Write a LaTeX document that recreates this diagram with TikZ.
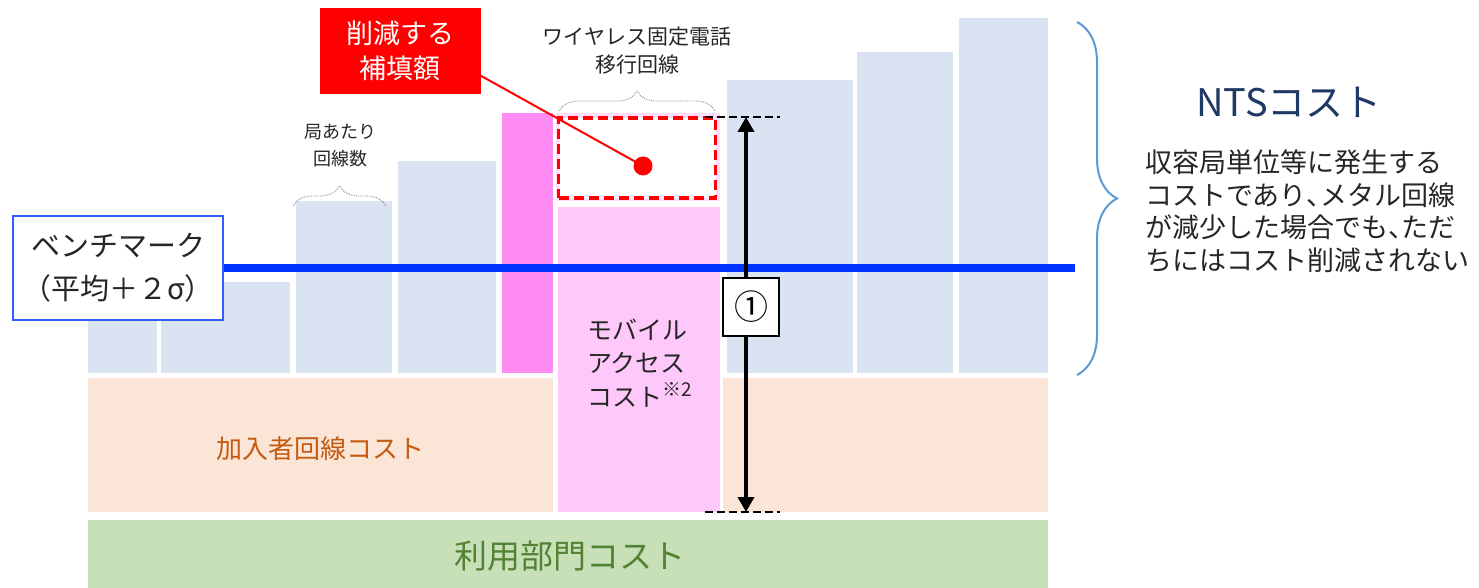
\documentclass[tikz,border=0pt]{standalone}
\usepackage{fontspec}
\setmainfont{Noto Sans CJK JP}
\usetikzlibrary{arrows.meta,decorations.pathreplacing}
\definecolor{barblue}{RGB}{218,227,242}
\definecolor{orng}{RGB}{251,229,214}
\definecolor{grn}{RGB}{199,224,183}
\definecolor{mag}{RGB}{255,140,245}
\definecolor{lpink}{RGB}{255,200,250}
\definecolor{navy}{RGB}{31,56,100}
\definecolor{bracecol}{RGB}{91,155,213}
\definecolor{grntext}{RGB}{84,130,53}
\definecolor{orngtext}{RGB}{197,90,17}
\definecolor{benchblue}{RGB}{0,51,255}
\newcommand{\halfcomma}{\makebox[0.5em][l]{、}}
\begin{document}
\begin{tikzpicture}[x=1pt,y=-1pt,
  bar/.style={fill=barblue,draw=none},
  fs/.style 2 args={font=\fontsize{#1}{#2}\selectfont},
  lbl/.style={inner sep=0pt,align=center,text=black!85},
  smallbrace/.style={draw=gray,densely dotted,line width=0.8pt,decorate,decoration={brace,amplitude=20pt}},
  dimdash/.style={draw=black,line width=2.5pt,dash pattern=on 8pt off 4pt},
]
\useasboundingbox (0,0) rectangle (1479,588);
% bottom bands
\fill[grn] (88,520) rectangle (1048,588);
\fill[orng] (88,378) rectangle (1048,512);
% blue bars
\fill[barblue] (88,300) rectangle (157,373);
\fill[barblue] (161,282) rectangle (290,373);
\fill[barblue] (296,201) rectangle (392,373);
\fill[barblue] (398,161) rectangle (496,373);
\fill[barblue] (727,80) rectangle (853,373);
\fill[barblue] (857,52) rectangle (953,373);
\fill[barblue] (959,18) rectangle (1048,373);
% magenta and pink
\fill[mag] (502,113) rectangle (553,373);
\fill[white] (553,112) rectangle (723,515);
\fill[lpink!60] (556,113) rectangle (720,201);
\fill[lpink] (558,207) rectangle (720,512);
\node[draw=red,fill=white,line width=3.5pt,dash pattern=on 10pt off 5pt,minimum width=157pt,minimum height=80pt,inner sep=0pt] (cutbox) at (637,158) {};
% text in bands
\node[lbl,fs={33}{40},text=grntext] (usage) at (570,556) {利用部門コスト};
\node[lbl,fs={26}{30},text=orngtext] (sub) at (320,449) {加入者回線コスト};
\node[lbl,fs={25}{33.5},align=left,anchor=west] (mobile) at (587,363) {モバイル\\アクセス\\コスト\raisebox{0.4em}{\fontsize{19}{19}\selectfont ※2}};
% benchmark
\node[draw=benchblue!80,line width=1.5pt,fill=white,minimum width=210pt,minimum height=104pt,inner sep=0pt,align=center,fs={29}{43},text=black!85] (bench) at (118,268) {ベンチマーク\\（平均＋２σ）};
\coordinate (lineend) at (1075,268);
\draw[benchblue,line width=8pt] (bench.east) -- (lineend);
% dimension arrow
\coordinate (atop) at (746,117);
\coordinate (abot) at (746,512);
\coordinate (dtl) at (705,117); \coordinate (dtr) at (780,117);
\coordinate (dbl) at (705,512); \coordinate (dbr) at (780,512);
\draw[dimdash] (dtl) -- (dtr);
\draw[dimdash] (dbl) -- (dbr);
\draw[line width=3.5pt,{Triangle[width=16pt,length=15pt]}-{Triangle[width=16pt,length=15pt]}] (abot) -- (atop);
\node[draw=black,line width=1.2pt,fill=white,minimum width=56pt,minimum height=58pt,inner sep=0pt,fs={34}{34}] (one) at (751,307) {①};
% red label
\node[fill=red,minimum width=161pt,minimum height=86pt,inner sep=0pt,align=center,text=white,fs={27}{35}] (redbox) at (400,51) {削減する\\補填額};
\node[circle,fill=red,minimum size=19pt,inner sep=0pt] (dot) at (643,166) {};
\draw[red,line width=2pt] (redbox.-17) -- (dot.center);
% small braces and labels
\draw[smallbrace] (559,111) -- (715,111);
\node[lbl,fs={21}{28}] (wireless) at (637,51) {ワイヤレス固定電話\\移行回線};
\draw[smallbrace] (293,206) -- (386,206);
\node[lbl,fs={18}{27}] (perstation) at (340,146) {局あたり\\回線数};
% big brace
\draw[bracecol,line width=2pt,decorate,decoration={brace,amplitude=40pt}] (1077,22) -- (1077,375);
\node[lbl,fs={38}{40},text=navy] (nts) at (1289,102) {NTSコスト};
\node[lbl,fs={27}{32.5},align=left,anchor=west] (desc) at (1145,211) {収容局単位等に発生する\\コストであり\halfcomma メタル回線\\が減少した場合でも\halfcomma ただ\\ちにはコスト削減されない};
\end{tikzpicture}
\end{document}
